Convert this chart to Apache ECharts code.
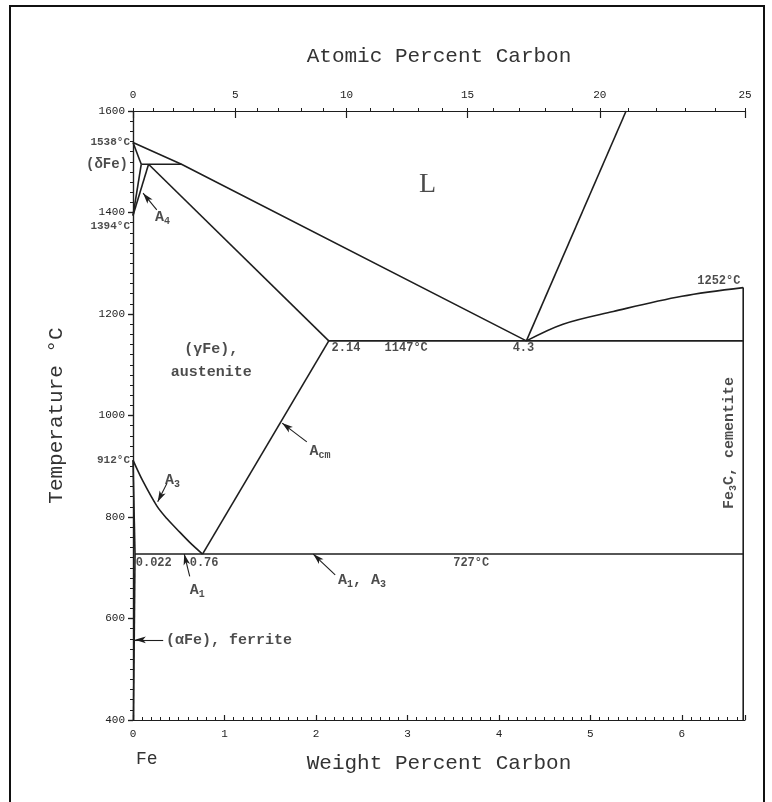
<!DOCTYPE html>
<html><head><meta charset="utf-8">
<script src="https://cdn.jsdelivr.net/npm/echarts@6/dist/echarts.min.js"></script>
<style>html,body{margin:0;padding:0;background:#fff}#c{width:772px;height:802px}</style>
</head><body><div id="c"></div>
<script>
// ---- axis ticks ----
const wtTicks = [0, 1, 2, 3, 4, 5, 6];
const atMajorTicks = [0, 5, 10, 15, 20, 25];
const atMinorTicks = [0,1,2,3,4,5,6,7,8,9,10,11,12,13,14,15,16,17,18,19,20,21,22,23,24,25];
const tempTicks = [400, 600, 800, 1000, 1200, 1400, 1600];

// ---- phase boundaries [wt% C, °C] ----
const liquidusL = [[0, 1538], [0.53, 1495], [4.3, 1147]];
const deltaSolidus = [[0, 1538], [0.09, 1495]];
const peritectic = [[0.09, 1495], [0.53, 1495]];
const deltaBoundary = [[0, 1394], [0.09, 1495]];
const gammaBoundary = [[0, 1394], [0.17, 1495]];
const gammaSolidus = [[0.17, 1495], [2.14, 1147]];
const eutectic = [[2.14, 1147], [6.67, 1147]];
const liquidusHigh = [[4.3, 1147], [5.39, 1600]];
const cementiteLiquidus = [[4.3, 1147], [4.7, 1180], [5.25, 1205], [6.0, 1235], [6.67, 1252]];
const acmLine = [[0.76, 727], [2.14, 1147]];
const a3Line = [[0, 912], [0.11, 870], [0.26, 822], [0.37, 797], [0.48, 776], [0.62, 750], [0.76, 727]];
const eutectoid = [[0.022, 727], [6.67, 727]];
const alphaGamma = [[0, 912], [0.022, 727]];
const alphaSolvus = [[0.022, 727], [0.005, 400]];
const fe3cLine = [[6.67, 400], [6.67, 1252]];

const straightBoundaries = [liquidusL, deltaSolidus, peritectic, deltaBoundary, gammaBoundary, gammaSolidus,
  eutectic, liquidusHigh, acmLine, eutectoid, alphaGamma, alphaSolvus, fe3cLine];
const curvedBoundaries = [cementiteLiquidus, a3Line];

// ---- pointer arrows [from, to] ----
const arrows = [
  [[0.26, 1405], [0.11, 1438]],   // A4
  [[0.37, 866], [0.27, 830]],     // A3
  [[0.62, 683], [0.56, 727]],     // A1
  [[1.90, 948], [1.63, 985]],     // Acm
  [[2.21, 686], [1.97, 727]],     // A1, A3
  [[0.33, 558], [0.02, 558]]      // ferrite
];

// ---- annotation texts ----
const notes = [
  {t: '1538°C', at: [0, 1538], k: 'outL'},
  {t: '(δFe)', at: [0, 1494], k: 'outLbig'},
  {t: '1394°C', at: [0, 1372], k: 'outL'},
  {t: '912°C', at: [0, 912], k: 'outL'},
  {t: 'A{s|4}', at: [0.24, 1391], k: 'sym'},
  {t: 'A{s|3}', at: [0.35, 873], k: 'sym'},
  {t: 'A{s|1}', at: [0.62, 656], k: 'sym'},
  {t: 'A{s|cm}', at: [1.93, 930], k: 'sym'},
  {t: 'A{s|1}, A{s|3}', at: [2.24, 676], k: 'sym'},
  {t: '(αFe), ferrite', at: [0.34, 558], k: 'phase'},
  {t: 'L', at: [3.22, 1454], k: 'big'},
  {t: '(γFe),\naustenite', at: [0.855, 1107], k: 'phaseC'},
  {t: '1252°C', at: [6.64, 1266], k: 'smallR'},
  {t: '2.14', at: [2.17, 1133], k: 'small'},
  {t: '1147°C', at: [2.75, 1133], k: 'small'},
  {t: '4.3', at: [4.15, 1133], k: 'small'},
  {t: '727°C', at: [3.5, 709], k: 'small'},
  {t: '0.022', at: [0.03, 709], k: 'small'},
  {t: '0.76', at: [0.62, 709], k: 'small'},
  {t: 'Fe{s|3}C, cementite', at: [6.52, 946], k: 'rot'}
];

const FONT = 'Liberation Mono';
const INK = '#1e1e1e';
const toWt = at => at * 12.011 / (at * 12.011 + (100 - at) * 55.845) * 100;
const toAt = wt => (wt / 12.011) / (wt / 12.011 + (100 - wt) / 55.845) * 100;
const XMAX = toWt(25);

const subRich = {s: {fontFamily: FONT, fontSize: 10, fontWeight: 'bold', color: INK, padding: [9, 0, 0, 0]}};
const styles = {
  outL: {position: 'left', distance: 3, fontSize: 11, fontWeight: 'bold'},
  outLbig: {position: 'left', distance: 5, fontSize: 14, fontWeight: 'bold'},
  sym: {position: 'right', distance: 0, fontSize: 15, fontWeight: 'bold'},
  phase: {position: 'right', distance: 2, fontSize: 15, fontWeight: 'bold'},
  phaseC: {position: 'inside', fontSize: 15, fontWeight: 'bold', lineHeight: 23, align: 'center'},
  big: {position: 'inside', fontSize: 28, fontFamily: 'Liberation Serif', fontWeight: 'normal'},
  smallR: {position: 'left', distance: 0, fontSize: 12, fontWeight: 'bold'},
  small: {position: 'right', distance: 0, fontSize: 12, fontWeight: 'bold'},
  rot: {position: 'inside', fontSize: 15, fontWeight: 'bold', rotate: 90}
};

const series = [];
straightBoundaries.forEach(b => series.push({
  type: 'line', data: b, showSymbol: false, symbol: 'none', silent: true, animation: false,
  lineStyle: {color: INK, width: 1.6}, z: 3
}));
curvedBoundaries.forEach(b => series.push({
  type: 'line', data: b, showSymbol: false, symbol: 'none', silent: true, animation: false, smooth: 0.35,
  lineStyle: {color: INK, width: 1.6}, z: 3
}));
series.push({
  type: 'line', data: [], animation: false, silent: true,
  markLine: {
    silent: true, animation: false, symbol: ['none', 'arrow'], symbolSize: [5, 11],
    lineStyle: {color: INK, width: 1.1, type: 'solid'}, label: {show: false},
    data: arrows.map(a => [{coord: a[0]}, {coord: a[1]}])
  }
});
series.push({
  type: 'scatter', symbolSize: 0, animation: false, silent: true, clip: false, z: 5,
  data: notes.map(n => {
    const s = styles[n.k];
    return {
      value: n.at,
      label: Object.assign({show: true, formatter: n.t, color: INK, fontFamily: FONT, rich: subRich}, s)
    };
  })
});

const axisFont = {fontFamily: FONT, fontSize: 11, color: '#222'};
const nameFont = {fontFamily: FONT, fontSize: 21, color: '#333'};
const lineStyle = {color: INK, width: 1.2};

const option = {
  backgroundColor: '#fff',
  animation: false,
  grid: {left: 133, right: 27, top: 111, bottom: 82},
  xAxis: [
    {
      type: 'value', position: 'bottom', min: 0, max: XMAX, interval: 1,
      name: 'Weight Percent Carbon', nameLocation: 'middle', nameGap: 33, nameTextStyle: nameFont,
      axisLine: {show: true, lineStyle: lineStyle},
      axisTick: {show: true, inside: true, length: 5, lineStyle: lineStyle},
      minorTick: {show: true, splitNumber: 10, length: 3, lineStyle: {color: INK, width: 1}},
      axisLabel: Object.assign({margin: 9, customValues: wtTicks, formatter: v => String(v)}, axisFont),
      splitLine: {show: false}, minorSplitLine: {show: false}
    },
    {
      type: 'value', position: 'top', min: 0, max: XMAX,
      name: 'Atomic Percent Carbon', nameLocation: 'middle', nameGap: 44, nameTextStyle: nameFont,
      axisLine: {show: true, lineStyle: lineStyle},
      axisTick: {show: true, inside: true, length: 7, lineStyle: lineStyle, customValues: atMajorTicks.map(toWt)},
      axisLabel: Object.assign({margin: 10, customValues: atMajorTicks.map(toWt),
        formatter: v => String(Math.round(toAt(v)))}, axisFont),
      splitLine: {show: false}
    },
    {
      type: 'value', position: 'top', min: 0, max: XMAX,
      axisLine: {show: false},
      axisTick: {show: true, inside: false, length: 3, lineStyle: {color: INK, width: 1}, customValues: atMinorTicks.map(toWt)},
      axisLabel: {show: false}, splitLine: {show: false}
    }
  ],
  yAxis: [
    {
      type: 'value', position: 'left', min: 400, max: 1600, interval: 200,
      name: 'Temperature °C', nameLocation: 'middle', nameGap: 66, nameRotate: 90, nameTextStyle: nameFont,
      axisLine: {show: true, lineStyle: lineStyle},
      axisTick: {show: true, inside: false, length: 5, lineStyle: lineStyle},
      minorTick: {show: true, splitNumber: 10, length: 3, lineStyle: {color: INK, width: 1}},
      axisLabel: Object.assign({margin: 8, customValues: tempTicks, formatter: v => String(v)}, axisFont),
      splitLine: {show: false}, minorSplitLine: {show: false}
    },
    {
      type: 'value', position: 'right', min: 400, max: 1600, interval: 200,
      axisLine: {show: true, lineStyle: lineStyle},
      axisTick: {show: true, inside: true, length: 5, lineStyle: lineStyle},
      minorTick: {show: true, splitNumber: 10, length: 3, lineStyle: {color: INK, width: 1}},
      axisLabel: {show: false}, splitLine: {show: false}
    }
  ],
  graphic: [
    {type: 'rect', shape: {x: 10, y: 6, width: 754, height: 820}, style: {fill: 'none', stroke: '#111', lineWidth: 2}, silent: true},
    {type: 'text', left: 136, top: 750, style: {text: 'Fe', fontFamily: FONT, fontSize: 18, fill: '#333'}, silent: true}
  ],
  series: series
};

const chart = echarts.init(document.getElementById('c'), null, {renderer: 'canvas'});
chart.setOption(option);
</script>
</body></html>
